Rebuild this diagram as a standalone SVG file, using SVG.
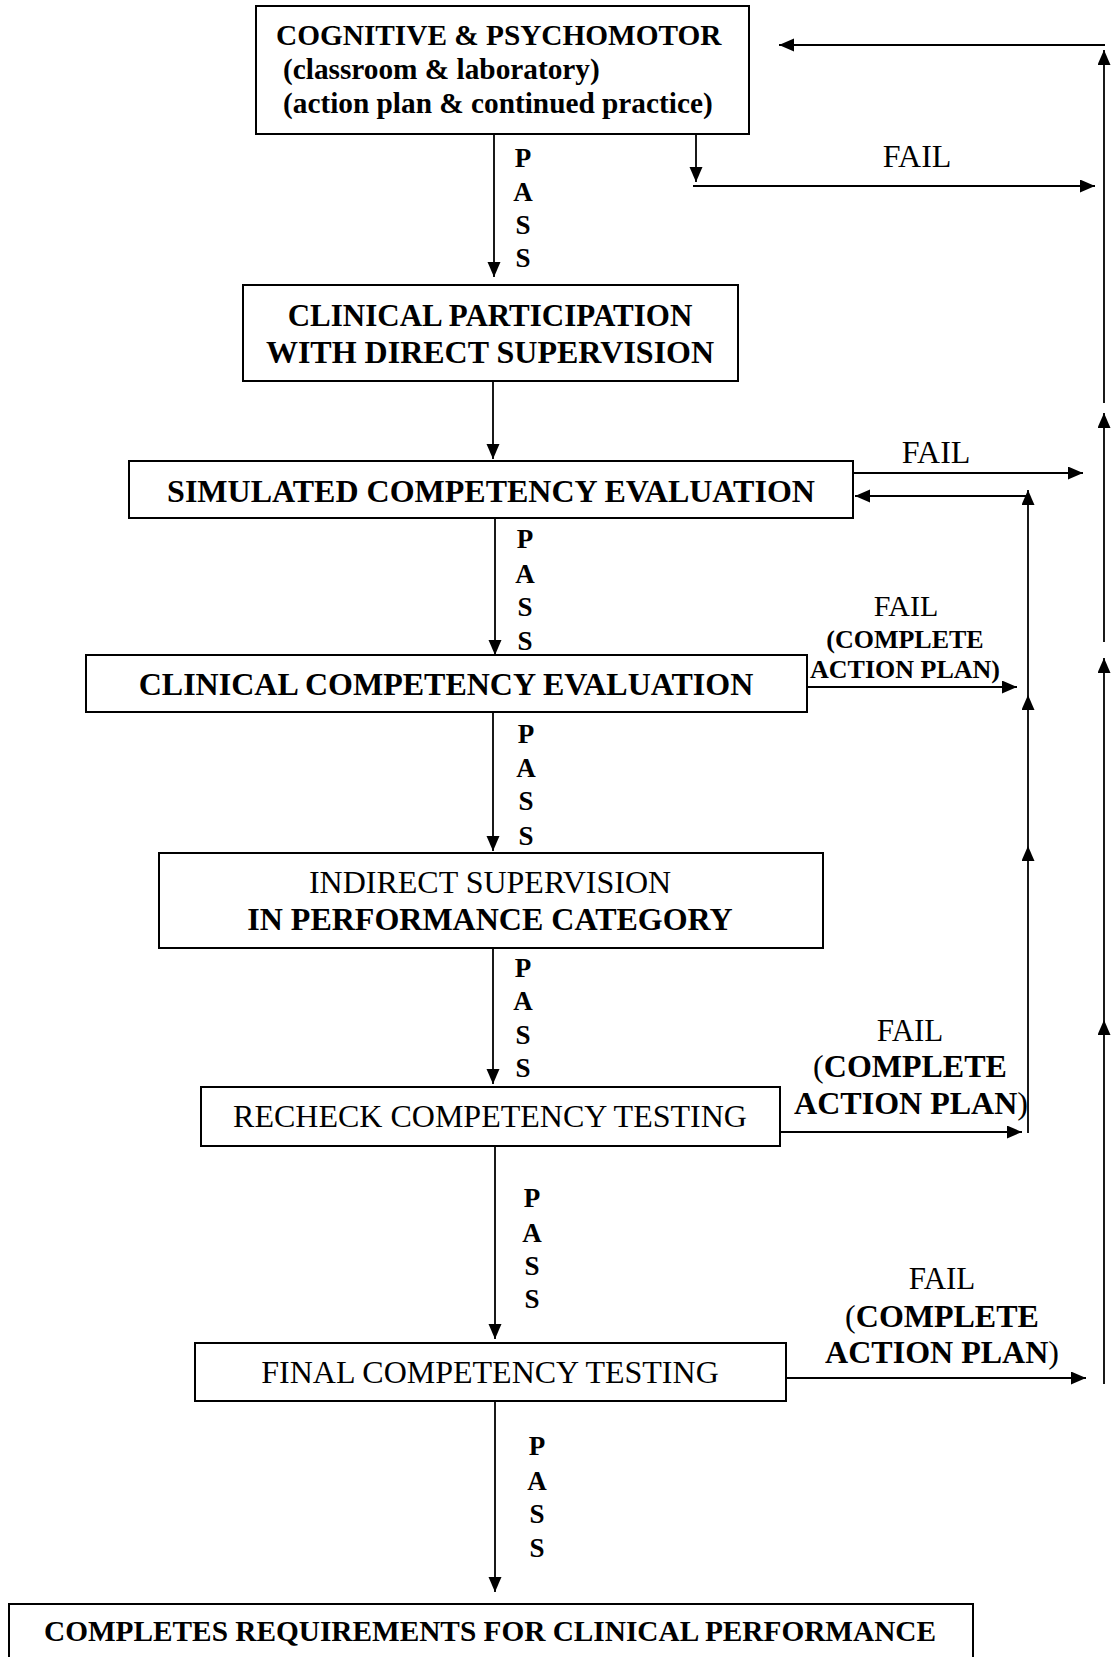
<svg xmlns="http://www.w3.org/2000/svg" width="1111" height="1657" viewBox="0 0 1111 1657">
<style>
.box{fill:#fff;stroke:#000;stroke-width:2}
.t{font-family:"Liberation Serif","Times New Roman",serif;fill:#000}
.b{font-weight:bold}
.n{font-weight:normal}
.c{stroke:#000;stroke-width:1.8;fill:none;marker-end:url(#ah)}
.p{font-family:"Liberation Serif","Times New Roman",serif;font-weight:bold;font-size:27px;text-anchor:middle}
</style>
<defs>
<marker id="ah" markerUnits="userSpaceOnUse" markerWidth="16" markerHeight="14" refX="15" refY="6.5" orient="auto">
<path d="M0,0 L15,6.5 L0,13 z" fill="#000"/>
</marker>
</defs>
<rect width="1111" height="1657" fill="#fff"/>

<g id="connectors">
<line class="c" x1="494" y1="134" x2="494" y2="277"/>
<line class="c" x1="696" y1="134" x2="696" y2="182"/>
<line class="c" x1="693" y1="186" x2="1095" y2="186"/>
<line class="c" x1="1105" y1="45" x2="779" y2="45"/>
<line class="c" x1="1104" y1="403" x2="1104" y2="50"/>
<line class="c" x1="1104" y1="642" x2="1104" y2="413"/>
<line class="c" x1="1104" y1="1020" x2="1104" y2="658"/>
<line class="c" x1="1104" y1="1384" x2="1104" y2="1020"/>
<line class="c" x1="493" y1="381" x2="493" y2="459"/>
<line class="c" x1="853" y1="473" x2="1083" y2="473"/>
<line class="c" x1="1028" y1="496" x2="855" y2="496"/>
<line class="c" x1="1028" y1="695" x2="1028" y2="490"/>
<line class="c" x1="1028" y1="846" x2="1028" y2="695"/>
<line class="c" x1="1028" y1="1133" x2="1028" y2="846"/>
<line class="c" x1="807" y1="687" x2="1017" y2="687"/>
<line class="c" x1="495" y1="518" x2="495" y2="655"/>
<line class="c" x1="493" y1="712" x2="493" y2="851"/>
<line class="c" x1="493" y1="948" x2="493" y2="1084"/>
<line class="c" x1="780" y1="1132" x2="1022" y2="1132"/>
<line class="c" x1="495" y1="1146" x2="495" y2="1339"/>
<line class="c" x1="786" y1="1378" x2="1086" y2="1378"/>
<line class="c" x1="495" y1="1401" x2="495" y2="1592"/>
</g>

<g id="labels">
<text class="p" x="523" y="167">P</text>
<text class="p" x="523" y="201">A</text>
<text class="p" x="523" y="234">S</text>
<text class="p" x="523" y="267">S</text>

<text class="p" x="525" y="548">P</text>
<text class="p" x="525" y="583">A</text>
<text class="p" x="525" y="616">S</text>
<text class="p" x="525" y="650">S</text>

<text class="p" x="526" y="743">P</text>
<text class="p" x="526" y="777">A</text>
<text class="p" x="526" y="810">S</text>
<text class="p" x="526" y="845">S</text>

<text class="p" x="523" y="977">P</text>
<text class="p" x="523" y="1010">A</text>
<text class="p" x="523" y="1044">S</text>
<text class="p" x="523" y="1077">S</text>

<text class="p" x="532" y="1207">P</text>
<text class="p" x="532" y="1242">A</text>
<text class="p" x="532" y="1275">S</text>
<text class="p" x="532" y="1308">S</text>

<text class="p" x="537" y="1455">P</text>
<text class="p" x="537" y="1490">A</text>
<text class="p" x="537" y="1523">S</text>
<text class="p" x="537" y="1557">S</text>

<text class="t" x="917" y="167" font-size="32" text-anchor="middle">FAIL</text>
<text class="t" x="936" y="463" font-size="32" text-anchor="middle">FAIL</text>

<text class="t" x="906" y="616" font-size="30" text-anchor="middle">FAIL</text>
<text class="t b" x="905" y="648" font-size="26" text-anchor="middle">(COMPLETE</text>
<text class="t b" x="905" y="678" font-size="26" text-anchor="middle">ACTION PLAN)</text>

<text class="t" x="910" y="1041" font-size="31" text-anchor="middle">FAIL</text>
<text class="t b" x="910" y="1077" font-size="32" text-anchor="middle"><tspan class="n">(</tspan>COMPLETE</text>
<text class="t b" x="911" y="1114" font-size="32" text-anchor="middle">ACTION PLAN<tspan class="n">)</tspan></text>

<text class="t" x="942" y="1289" font-size="31" text-anchor="middle">FAIL</text>
<text class="t b" x="942" y="1327" font-size="32" text-anchor="middle"><tspan class="n">(</tspan>COMPLETE</text>
<text class="t b" x="942" y="1363" font-size="32" text-anchor="middle">ACTION PLAN<tspan class="n">)</tspan></text>
</g>

<g id="n1">
<rect class="box" x="256" y="6" width="493" height="128"/>
<text class="t b" x="276" y="45" font-size="29.3">COGNITIVE &amp; PSYCHOMOTOR</text>
<text class="t b" x="283" y="79" font-size="29.3">(classroom &amp; laboratory)</text>
<text class="t b" x="283" y="113" font-size="29.3">(action plan &amp; continued practice)</text>
</g>
<g id="n2">
<rect class="box" x="243" y="285" width="495" height="96"/>
<text class="t b" x="490" y="326" font-size="31" text-anchor="middle">CLINICAL PARTICIPATION</text>
<text class="t b" x="490" y="363" font-size="32" text-anchor="middle">WITH DIRECT SUPERVISION</text>
</g>
<g id="n3">
<rect class="box" x="129" y="461" width="724" height="57"/>
<text class="t b" x="491" y="502" font-size="32" text-anchor="middle">SIMULATED COMPETENCY EVALUATION</text>
</g>
<g id="n4">
<rect class="box" x="86" y="655" width="721" height="57"/>
<text class="t b" x="446" y="695" font-size="32" text-anchor="middle">CLINICAL COMPETENCY EVALUATION</text>
</g>
<g id="n5">
<rect class="box" x="159" y="853" width="664" height="95"/>
<text class="t" x="490" y="893" font-size="32" text-anchor="middle">INDIRECT SUPERVISION</text>
<text class="t b" x="490" y="930" font-size="32" text-anchor="middle">IN PERFORMANCE CATEGORY</text>
</g>
<g id="n6">
<rect class="box" x="201" y="1087" width="579" height="59"/>
<text class="t" x="490" y="1127" font-size="32" text-anchor="middle">RECHECK COMPETENCY TESTING</text>
</g>
<g id="n7">
<rect class="box" x="195" y="1343" width="591" height="58"/>
<text class="t" x="490" y="1383" font-size="32" text-anchor="middle">FINAL COMPETENCY TESTING</text>
</g>
<g id="n8">
<rect class="box" x="9" y="1604" width="964" height="80"/>
<text class="t b" x="490" y="1641" font-size="29.3" text-anchor="middle">COMPLETES REQUIREMENTS FOR CLINICAL PERFORMANCE</text>
</g>
</svg>
